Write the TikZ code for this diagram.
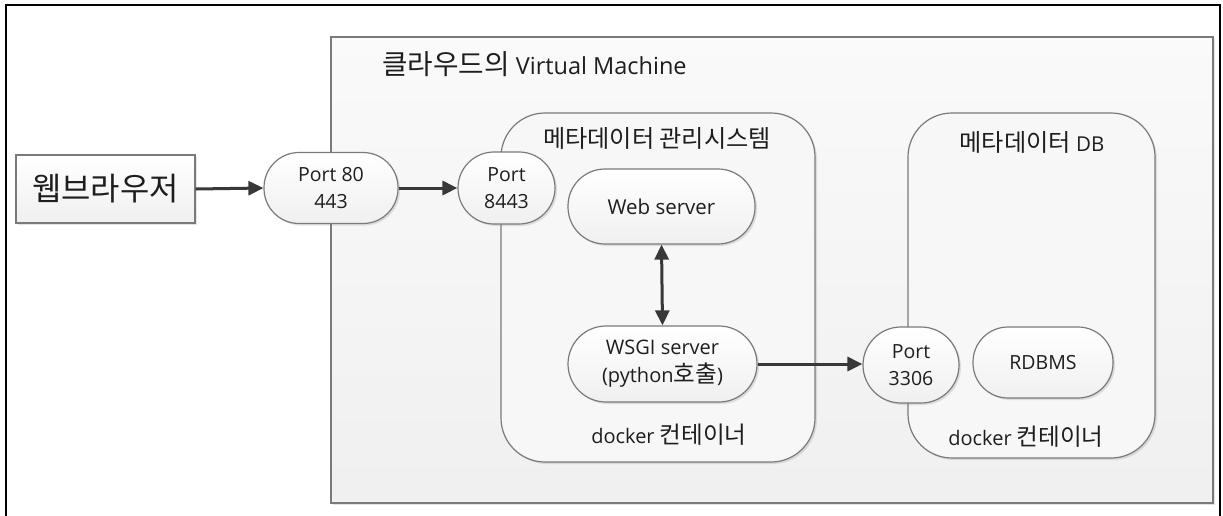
\documentclass[tikz,border=0pt]{standalone}
\usepackage{fontspec}
\setmainfont{Open Sans}
\newfontfamily\kr[Scale=1.18]{Noto Sans CJK KR}
\usetikzlibrary{arrows.meta,shadows,positioning}
\definecolor{edge}{HTML}{7A7A7A}
\definecolor{ink}{HTML}{383838}
\definecolor{txt}{HTML}{1E1E1E}
\tikzset{
  soft/.style={drop shadow={opacity=0.22,shadow xshift=2pt,shadow yshift=-2pt}},
  pill/.style={draw=edge,line width=1.2pt,top color=white,bottom color=black!6,soft,
    align=center,font=\fontsize{19.5}{27}\selectfont,text=txt,inner sep=0pt},
  container/.style={draw=edge,line width=1.2pt,rounded corners=44pt,fill=black!3,soft},
  flow/.style={draw=ink,line width=3pt,-{Triangle[length=15pt,width=14pt]}},
  bothflow/.style={draw=ink,line width=3pt,{Triangle[length=15pt,width=14pt]}-{Triangle[length=15pt,width=14pt]}},
  lbl/.style={text=txt,inner sep=0pt,anchor=center}
}
\begin{document}
\begin{tikzpicture}[x=1pt,y=-1pt]
\useasboundingbox (0,0) rectangle (1223,515);
\fill[white] (0,0) rectangle (1223,515);
% outer frame
\draw[black,line width=1.8pt] (6,530) -- (6,5) -- (1220,5) -- (1220,530);

% virtual machine area
\path[draw=edge,line width=1.2pt,top color=black!2,bottom color=black!6,soft]
  (331,37) rectangle (1213,503);
\node[lbl,anchor=west,font=\fontsize{23.5}{26}\selectfont] (vmtitle) at (382,64)
  {{\kr 클라우드의} Virtual Machine};

% containers
\draw[container] (501,113) rectangle (815,462);
\node[lbl,font=\kr\fontsize{20.5}{24}\selectfont] (mgmttitle) at (657,138) {메타데이터 관리시스템};
\node[lbl,font=\fontsize{20}{24}\selectfont] (mgmtdock) at (669,435) {docker {\kr 컨테이너}};

\draw[container] (908,113) rectangle (1155,458);
\node[lbl,font=\fontsize{20.5}{24}\selectfont] (dbtitle) at (1032,142) {{\kr 메타데이터} DB};
\node[lbl,font=\fontsize{20}{24}\selectfont] (dbdock) at (1026,437) {docker {\kr 컨테이너}};

% browser
\node[draw=edge,line width=1.2pt,top color=white,bottom color=black!6,soft,
  minimum width=179pt,minimum height=68pt,inner sep=0pt,
  font=\kr\fontsize{27}{32}\selectfont,text=txt] (browser) at (105.5,189) {웹브라우저};

% ports and services
\node[pill,minimum width=134pt,minimum height=71pt,rounded corners=35pt] (p80) at (331,188) {Port 80\\443};
\node[pill,minimum width=97pt,minimum height=72pt,rounded corners=36pt] (p8443) at (506.5,188) {Port\\8443};
\node[pill,minimum width=187pt,minimum height=75pt,rounded corners=37pt,font=\fontsize{20.5}{27}\selectfont] (web) at (661.5,206.5) {Web server};
\node[pill,minimum width=189pt,minimum height=76pt,rounded corners=38pt,font=\fontsize{20}{28}\selectfont] (wsgi) at (662.5,364) {WSGI server\\(python{\kr 호출})};
\node[pill,minimum width=96pt,minimum height=76pt,rounded corners=38pt] (p3306) at (911,365) {Port\\3306};
\node[pill,minimum width=140pt,minimum height=71pt,rounded corners=35pt] (rdbms) at (1043,362.5) {RDBMS};

% connectors
\draw[flow] (browser.east) -- (p80.west);
\draw[flow] (p80.east) -- (p8443.west);
\draw[bothflow] (web.south) -- (wsgi.north);
\draw[flow] (wsgi.east) -- (wsgi.east -| p3306.west);
\end{tikzpicture}
\end{document}
